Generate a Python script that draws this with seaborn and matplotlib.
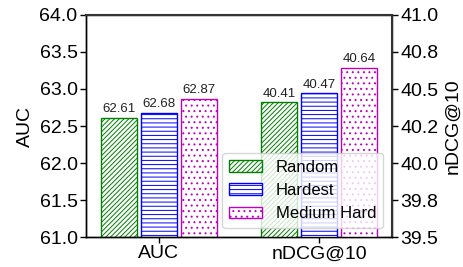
import pandas as pd
import matplotlib.pyplot as plt
import matplotlib.ticker as mticker
from matplotlib.patches import Patch
import seaborn as sns

# --- data ---
metrics = ["AUC", "nDCG@10"]
methods = ["Random", "Hardest", "Medium Hard"]
auc_vals = [62.61, 62.68, 62.87]
ndcg_vals = [40.41, 40.47, 40.64]

colors = ["green", "blue", "m"]
hatches = ["///////", "----", "..."]

df_auc = pd.DataFrame({"metric": "AUC", "method": methods, "value": auc_vals})
df_ndcg = pd.DataFrame({"metric": "nDCG@10", "method": methods, "value": ndcg_vals})

sns.set_style("ticks")
plt.rcParams["font.family"] = ["Liberation Sans", "DejaVu Sans"]
plt.rcParams["hatch.linewidth"] = 0.7
for k in ("text.color", "axes.labelcolor", "xtick.color", "ytick.color"):
    plt.rcParams[k] = "black"

fig = plt.figure(figsize=(4.64, 2.67), dpi=100)
ax = fig.add_axes([0.185, 0.112, 0.66, 0.832])
ax2 = ax.twinx()


def draw(axis, df):
    sns.barplot(data=df, x="metric", y="value", hue="method", order=metrics,
                hue_order=methods, palette=colors, width=0.75, gap=0.1,
                errorbar=None, legend=False, ax=axis)
    for cont, c, h in zip(axis.containers, colors, hatches):
        for p in cont:
            p.set_facecolor("white")
            p.set_edgecolor(c)
            p.set_hatch(h)
            p.set_linewidth(1.0)
        axis.bar_label(cont, fmt="%.2f", fontsize=9.5, padding=2, color="#222222")


draw(ax, df_auc)
draw(ax2, df_ndcg)

ax.set_xlim(-0.455, 1.455)
ax.set_ylim(61.0, 64.0)
ax.set_yticks([61.0, 61.5, 62.0, 62.5, 63.0, 63.5, 64.0])
ax.yaxis.set_major_formatter(mticker.FormatStrFormatter("%.1f"))
ax2.set_ylim(39.5, 41.0)
ax2.set_yticks([39.5, 39.75, 40.0, 40.25, 40.5, 40.75, 41.0])
ax2.yaxis.set_major_formatter(mticker.FormatStrFormatter("%.1f"))

ax.set_xlabel("")
ax2.set_xlabel("")
ax.set_ylabel("AUC", fontsize=14)
ax2.set_ylabel("nDCG@10", fontsize=14)
ax.set_xticks([0, 1])
ax.set_xticklabels(metrics)
for a in (ax, ax2):
    a.tick_params(labelsize=14, length=4, width=1, color="black", direction="out", pad=2)
    for s in a.spines.values():
        s.set_visible(True)
        s.set_color("black")
        s.set_linewidth(1.0)
for s in ("top", "right"):
    ax2.spines[s].set_color("#333333")
    ax2.spines[s].set_linewidth(1.5)

handles = [Patch(facecolor="white", edgecolor=c, hatch=h, label=m)
           for m, c, h in zip(methods, colors, hatches)]
ax2.legend(handles=handles, loc="lower right", fontsize=12,
           borderaxespad=0.55, framealpha=0.8)

plt.savefig("out.png", dpi=100)
